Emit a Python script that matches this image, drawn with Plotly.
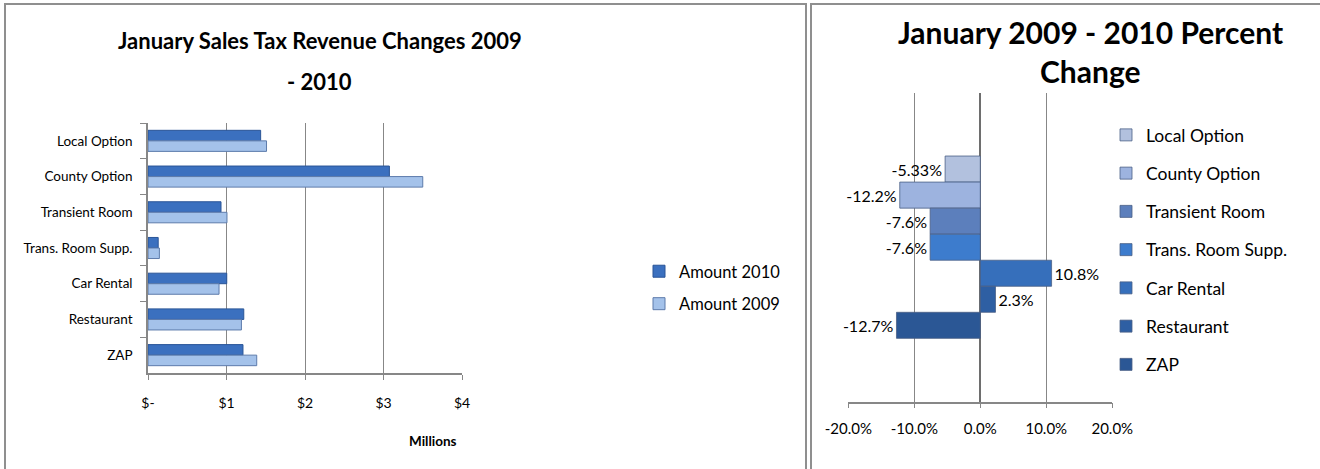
import plotly.graph_objects as go

W, H = 1320, 469

# ---- data ----
categories = ["Local Option", "County Option", "Transient Room", "Trans. Room Supp.",
              "Car Rental", "Restaurant", "ZAP"]
amount_2010 = [1.435, 3.075, 0.93, 0.13, 1.003, 1.22, 1.21]   # millions
amount_2009 = [1.51, 3.50, 1.006, 0.145, 0.905, 1.19, 1.385]  # millions
pct_change = [-5.33, -12.2, -7.6, -7.6, 10.8, 2.3, -12.7]
pct_labels = ["-5.33%", "-12.2%", "-7.6%", "-7.6%", "10.8%", "2.3%", "-12.7%"]
left_ticks = [0, 1, 2, 3, 4]
left_ticktext = ["$-", "$1", "$2", "$3", "$4"]
right_ticks = [-20, -10, 0, 10, 20]
right_ticktext = ["-20.0%", "-10.0%", "0.0%", "10.0%", "20.0%"]

pct_colors = ["#b2c1de", "#9db3df", "#5c7fbc", "#3d7ccd", "#366fbb", "#2e5fa3", "#2b5795"]

FONT = "Lato, Carlito, Calibri, sans-serif"

def px(x):
    return x / W

def py(y):
    return 1 - y / H

fig = go.Figure()

# left chart
fig.add_trace(go.Bar(
    y=categories, x=amount_2010, orientation="h", name="Amount 2010",
    marker=dict(color="#3b70bf", line=dict(color="#2a5597", width=1)),
    xaxis="x", yaxis="y", legend="legend", legendgroup="a",
))
fig.add_trace(go.Bar(
    y=categories, x=amount_2009, orientation="h", name="Amount 2009",
    marker=dict(color="#a4c2ea", line=dict(color="#5d7bab", width=1)),
    xaxis="x", yaxis="y", legend="legend", legendgroup="b",
))

# right chart: one trace per category
for i, cat in enumerate(categories):
    fig.add_trace(go.Bar(
        y=[""], x=[pct_change[i]], orientation="h", name=cat,
        marker=dict(color=pct_colors[i], line=dict(color="#4a5f85", width=0.8)),
        text=[pct_labels[i]], textposition="outside", cliponaxis=False,
        textfont=dict(family=FONT, size=16, color="#000"),
        xaxis="x2", yaxis="y2", legend="legend2", legendgroup="g%d" % i,
    ))

grid = "#878787"
fig.update_layout(
    width=W, height=H,
    margin=dict(l=0, r=0, t=0, b=0, pad=0, autoexpand=False),
    paper_bgcolor="white", plot_bgcolor="white",
    font=dict(family=FONT, size=14, color="#000"),
    barmode="group",
    bargap=0.41, bargroupgap=0.0,
    xaxis=dict(
        domain=[px(148), px(462)], anchor="y", range=[0, 4],
        tickvals=left_ticks, ticktext=left_ticktext,
        showgrid=True, gridcolor=grid, gridwidth=1,
        showline=True, linecolor=grid, linewidth=1.5,
        ticks="outside", ticklen=5, tickcolor=grid,
        ticklabelstandoff=11, zeroline=False, automargin=False,
        tickfont=dict(size=14), fixedrange=True,
    ),
    yaxis=dict(
        domain=[py(373), py(123)], anchor="x",
        autorange="reversed", type="category",
        showline=True, linecolor=grid, linewidth=1.5,
        ticks="outside", ticklen=6, tickcolor=grid, tickson="boundaries",
        ticklabelstandoff=11, showgrid=False, automargin=False,
        tickfont=dict(size=13.5), fixedrange=True,
    ),
    xaxis2=dict(
        domain=[px(848.3), px(1112.3)], anchor="y2", range=[-20, 20],
        tickvals=right_ticks, ticktext=right_ticktext,
        showgrid=True, gridcolor=grid, gridwidth=1,
        showline=True, linecolor=grid, linewidth=1.5,
        ticks="outside", ticklen=5, tickcolor=grid,
        ticklabelstandoff=8, automargin=False,
        zeroline=True, zerolinecolor="#6e6e6e", zerolinewidth=1.5,
        tickfont=dict(size=15), fixedrange=True,
    ),
    yaxis2=dict(
        domain=[py(401.7), py(92.7)], anchor="x2",
        autorange="reversed", showticklabels=False, showline=False,
        showgrid=False, ticks="", fixedrange=True, automargin=False,
    ),
    legend=dict(
        x=px(639), y=py(254), xanchor="left", yanchor="top",
        font=dict(size=16.5), bgcolor="rgba(0,0,0,0)",
        tracegroupgap=8, itemwidth=30, traceorder="grouped",
    ),
    legend2=dict(
        x=px(1106), y=py(117), xanchor="left", yanchor="top",
        font=dict(size=17.5), bgcolor="rgba(0,0,0,0)",
        tracegroupgap=12.5, itemwidth=30, traceorder="grouped",
    ),
    showlegend=True,
)

# panel borders
fig.add_shape(type="rect", xref="paper", yref="paper",
              x0=px(5), x1=px(806), y0=py(490), y1=py(4),
              line=dict(color="#8f8f8f", width=2), layer="below")
fig.add_shape(type="rect", xref="paper", yref="paper",
              x0=px(811), x1=px(1340), y0=py(490), y1=py(4),
              line=dict(color="#8f8f8f", width=2), layer="below")

# titles
fig.add_annotation(text="<b>January Sales Tax Revenue Changes 2009</b>", x=px(320), y=py(41),
                   xref="paper", yref="paper", xanchor="center", yanchor="middle",
                   showarrow=False, font=dict(size=22, family=FONT))
fig.add_annotation(text="<b>- 2010</b>", x=px(319), y=py(82),
                   xref="paper", yref="paper", xanchor="center", yanchor="middle",
                   showarrow=False, font=dict(size=22, family=FONT))
fig.add_annotation(text="<b>January 2009 - 2010 Percent</b>", x=px(1090), y=py(32),
                   xref="paper", yref="paper", xanchor="center", yanchor="middle",
                   showarrow=False, font=dict(size=30, family=FONT))
fig.add_annotation(text="<b>Change</b>", x=px(1090), y=py(71),
                   xref="paper", yref="paper", xanchor="center", yanchor="middle",
                   showarrow=False, font=dict(size=30, family=FONT))
fig.add_annotation(text="<b>Millions</b>", x=px(433), y=py(441),
                   xref="paper", yref="paper", xanchor="center", yanchor="middle",
                   showarrow=False, font=dict(size=13.5, family=FONT))

fig.write_html("out.html", config={"displayModeBar": False},
               post_script="document.body.style.margin='0';document.body.style.padding='0';")
